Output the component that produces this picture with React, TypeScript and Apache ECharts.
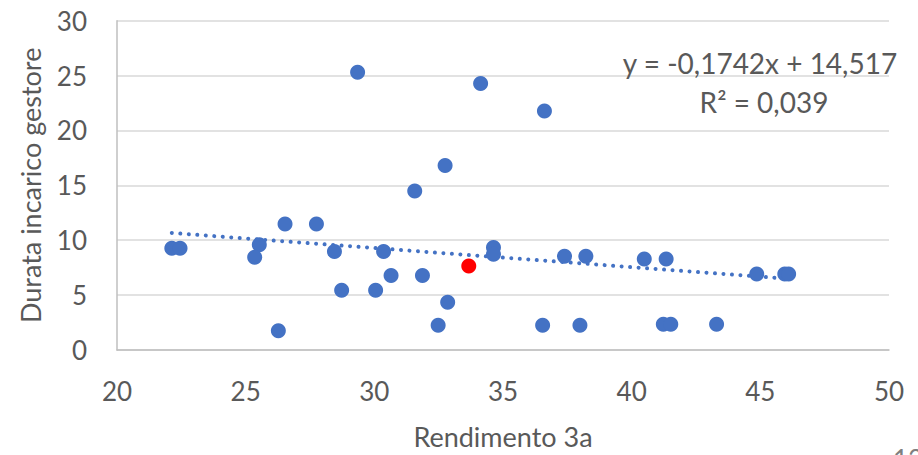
import React, { useEffect, useRef } from "react";
import * as echarts from "echarts";

const rendimento = [
  29.35, 34.13, 32.75, 31.57, 36.61, 22.13, 22.45, 25.53, 25.35, 26.53,
  27.75, 26.27, 28.45, 28.73, 30.05, 30.36, 30.65, 31.87, 32.85, 32.48,
  34.63, 34.63, 36.54, 37.99, 37.39, 38.22, 40.49, 41.34, 41.23, 41.52,
  43.3, 44.86, 45.95, 46.1,
];
const durata = [
  25.3, 24.27, 16.8, 14.49, 21.77, 9.28, 9.28, 9.58, 8.46, 11.47,
  11.47, 1.75, 8.98, 5.45, 5.45, 8.98, 6.78, 6.78, 4.34, 2.26,
  9.34, 8.73, 2.26, 2.26, 8.55, 8.55, 8.28, 8.28, 2.35, 2.35,
  2.35, 6.93, 6.93, 6.93,
];
const highlightX = [33.67];
const highlightY = [7.65];

const slope = -0.1742;
const intercept = 14.517;
const trendRange = [22.13, 46.1];
const equationText = "y = -0,1742x + 14,517";
const r2Text = "R² = 0,039";

const xTitle = "Rendimento 3a";
const yTitle = "Durata incarico gestore";

export default function App() {
  const ref = useRef<HTMLDivElement>(null);
  useEffect(() => {
    if (!ref.current) return;
    const chart = echarts.init(ref.current, undefined, { renderer: "svg" });
    const font = "Lato, 'Open Sans', sans-serif";
    const points = rendimento.map((x, i) => [x, durata[i]]);
    const trend = trendRange.map((x) => [x, slope * x + intercept]);
    chart.setOption({
      animation: false,
      backgroundColor: "#ffffff",
      textStyle: { fontFamily: font },
      grid: { left: 117, right: 29, top: 20.7, bottom: 102.3 },
      xAxis: {
        type: "value",
        min: 20,
        max: 50,
        interval: 5,
        name: xTitle,
        nameLocation: "middle",
        nameGap: 73,
        nameTextStyle: { fontSize: 27, color: "#595959", fontFamily: font },
        axisLine: { show: true, lineStyle: { color: "#bfbfbf", width: 1.5 } },
        axisTick: { show: false },
        splitLine: { show: false },
        axisLabel: { fontSize: 26, color: "#595959", margin: 28, fontFamily: font },
      },
      yAxis: {
        type: "value",
        min: 0,
        max: 30,
        interval: 5,
        name: yTitle,
        nameLocation: "middle",
        nameGap: 73,
        nameRotate: 90,
        nameTextStyle: { fontSize: 27, color: "#595959", fontFamily: font },
        axisLine: { show: true, lineStyle: { color: "#bfbfbf", width: 1.5 } },
        axisTick: { show: false },
        splitLine: { show: true, lineStyle: { color: "#d9d9d9", width: 1.5 } },
        axisLabel: { fontSize: 26, color: "#595959", margin: 30, fontFamily: font },
      },
      series: [
        {
          type: "line",
          data: trend,
          symbol: "none",
          silent: true,
          lineStyle: { color: "#4472C4", width: 4, type: [0.01, 8.5], cap: "round" },
          z: 3,
        },
        {
          type: "scatter",
          data: points,
          symbol: "circle",
          symbolSize: 15,
          itemStyle: { color: "#4472C4", opacity: 1 },
          z: 4,
        },
        {
          type: "scatter",
          data: highlightX.map((x, i) => [x, highlightY[i]]),
          symbol: "circle",
          symbolSize: 15,
          itemStyle: { color: "#FF0000", opacity: 1 },
          z: 5,
        },
      ],
      graphic: [
        {
          type: "text",
          x: 760,
          y: 63,
          style: {
            text: equationText,
            fontSize: 28,
            fill: "#595959",
            fontFamily: font,
            align: "center",
            verticalAlign: "middle",
          },
          z: 10,
        },
        {
          type: "text",
          x: 764,
          y: 102,
          style: {
            text: r2Text,
            fontSize: 28,
            fill: "#595959",
            fontFamily: font,
            align: "center",
            verticalAlign: "middle",
          },
          z: 10,
        },
        {
          type: "text",
          x: 893,
          y: 446,
          style: { text: "13", fontSize: 26, fill: "#7f7f7f", fontFamily: font },
          z: 10,
        },
      ],
    });
    return () => chart.dispose();
  }, []);
  return <div ref={ref} style={{ width: 918, height: 455, position: "absolute", left: 0, top: 0 }} />;
}
